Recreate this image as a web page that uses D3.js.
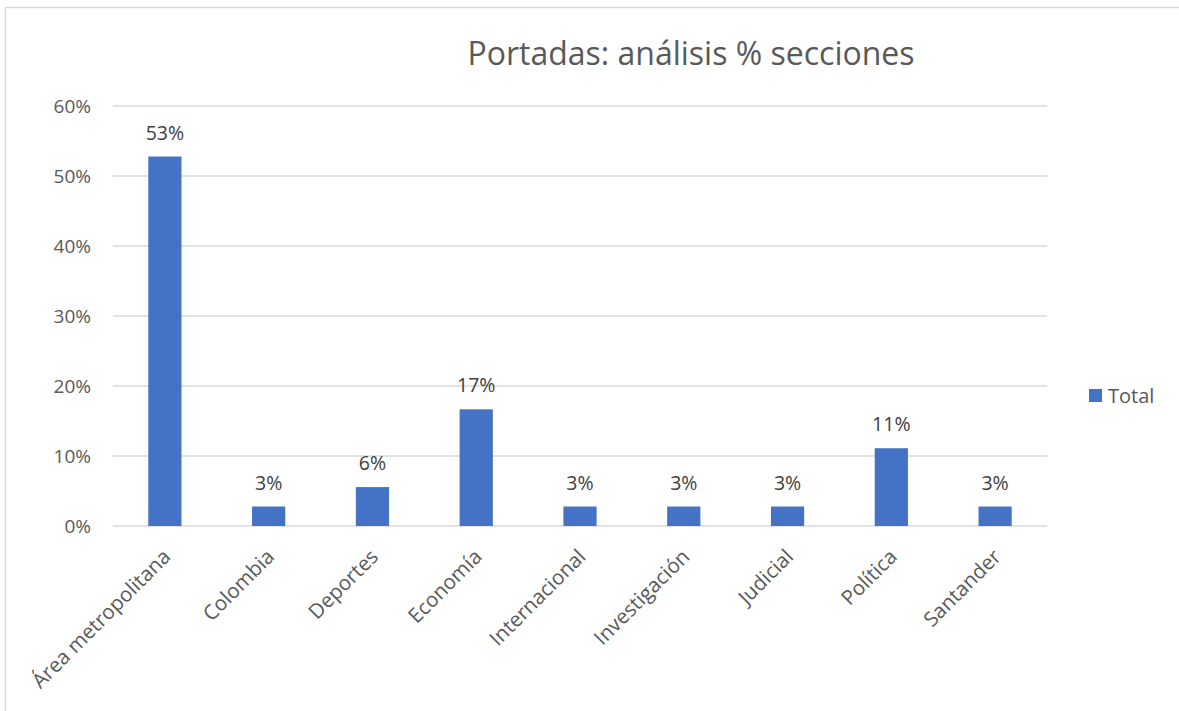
<!DOCTYPE html>
<html>
<head>
  <meta charset="UTF-8">
  <style>
    body { margin: 0; background: #fff; }
    text { font-family: "Open Sans", "Noto Sans", sans-serif; }
  </style>
</head>
<body>
<script src="https://d3js.org/d3.v7.min.js"></script>
<div id="my_dataviz"></div>
<script>

// data
var categories = ["Área metropolitana", "Colombia", "Deportes", "Economía", "Internacional",
                  "Investigación", "Judicial", "Política", "Santander"];
var values = [0.5278, 0.0278, 0.0556, 0.1667, 0.0278, 0.0278, 0.0278, 0.1111, 0.0278];
var yTicks = [0, 0.1, 0.2, 0.3, 0.4, 0.5, 0.6];
var seriesName = "Total";
var title = "Portadas: análisis % secciones";

var W = 1179, H = 711;
var svg = d3.select("#my_dataviz")
  .append("svg")
    .attr("width", W)
    .attr("height", H);

// chart border
svg.append("rect")
  .attr("x", 5.5).attr("y", 7.5)
  .attr("width", W).attr("height", H)
  .attr("fill", "none")
  .attr("stroke", "#d9d9d9")
  .attr("stroke-width", 1.5);

var x = d3.scaleBand()
  .domain(categories)
  .range([113, 1047])
  .paddingInner(0.68)
  .paddingOuter(0.34);

var y = d3.scaleLinear()
  .domain([0, 0.6])
  .range([526, 106]);

// gridlines
svg.append("g")
  .selectAll("line")
  .data(yTicks)
  .enter()
  .append("line")
    .attr("x1", 113)
    .attr("x2", 1047)
    .attr("y1", function(d) { return y(d); })
    .attr("y2", function(d) { return y(d); })
    .style("stroke", "#d9d9d9")
    .style("stroke-width", 1.5);

// y axis labels
svg.append("g")
  .selectAll("text")
  .data(yTicks)
  .enter()
  .append("text")
    .attr("x", 91)
    .attr("y", function(d) { return y(d); })
    .attr("dy", "0.35em")
    .attr("text-anchor", "end")
    .style("font-size", "19px")
    .style("fill", "#595959")
    .text(d3.format(".0%"));

// bars
svg.append("g")
  .selectAll("rect")
  .data(values)
  .enter()
  .append("rect")
    .attr("x", function(d, i) { return x(categories[i]); })
    .attr("y", function(d) { return y(d); })
    .attr("width", x.bandwidth())
    .attr("height", function(d) { return y(0) - y(d); })
    .style("fill", "#4472c4");

// data labels
svg.append("g")
  .selectAll("text")
  .data(values)
  .enter()
  .append("text")
    .attr("x", function(d, i) { return x(categories[i]) + x.bandwidth() / 2; })
    .attr("y", function(d) { return y(d) - 17; })
    .attr("text-anchor", "middle")
    .style("font-size", "19.5px")
    .style("fill", "#404040")
    .text(d3.format(".0%"));

// category labels
svg.append("g")
  .selectAll("text")
  .data(categories)
  .enter()
  .append("text")
    .attr("transform", function(d) {
      return "translate(" + (x(d) + x.bandwidth() / 2 + 7) + ",558) rotate(-45)";
    })
    .attr("text-anchor", "end")
    .style("font-size", "20.5px")
    .style("fill", "#595959")
    .text(function(d) { return d; });

// title
svg.append("text")
  .attr("x", 691)
  .attr("y", 65)
  .attr("text-anchor", "middle")
  .style("font-size", "32px")
  .style("fill", "#595959")
  .text(title);

// legend
svg.append("rect")
  .attr("x", 1089).attr("y", 389)
  .attr("width", 13).attr("height", 13)
  .style("fill", "#4472c4");
svg.append("text")
  .attr("x", 1108)
  .attr("y", 396)
  .attr("dy", "0.35em")
  .style("font-size", "20px")
  .style("fill", "#595959")
  .text(seriesName);

</script>
</body>
</html>
